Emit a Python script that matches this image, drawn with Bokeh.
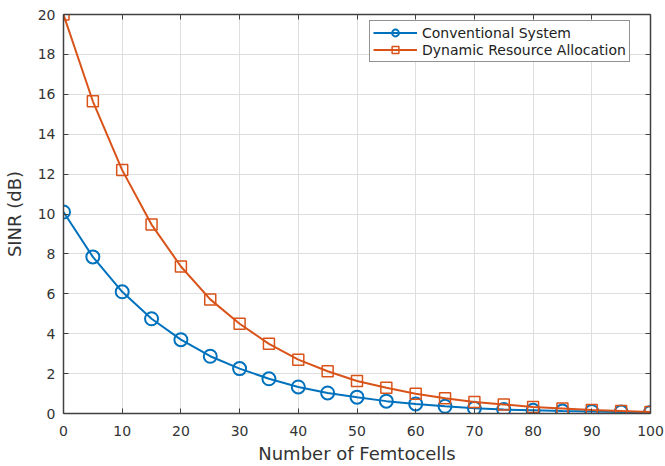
from bokeh.plotting import figure
from bokeh.models import (LinearAxis, FixedTicker, Range1d, Legend, LegendItem,
                          CustomJSTickFormatter)
from bokeh.embed import file_html
from bokeh.resources import INLINE

femtocells = [0, 5, 10, 15, 20, 25, 30, 35, 40, 45, 50, 55, 60, 65, 70, 75, 80, 85, 90, 95, 100]
conventional = [10.1, 7.85, 6.1, 4.75, 3.7, 2.87, 2.25, 1.74, 1.33, 1.03, 0.82, 0.62, 0.48,
                0.36, 0.26, 0.2, 0.16, 0.12, 0.1, 0.07, 0.05]
dynamic = [20.0, 15.65, 12.2, 9.47, 7.37, 5.72, 4.5, 3.49, 2.7, 2.12, 1.63, 1.29, 0.99,
           0.77, 0.58, 0.45, 0.33, 0.25, 0.17, 0.13, 0.08]
x_ticks = [0, 10, 20, 30, 40, 50, 60, 70, 80, 90, 100]
y_ticks = [0, 2, 4, 6, 8, 10, 12, 14, 16, 18, 20]
series_names = ["Conventional System", "Dynamic Resource Allocation"]

BLUE = "#0072BD"
ORANGE = "#D95319"
FONT = "DejaVu Sans"
AXCOL = "#404040"

p = figure(width=665, height=466, output_backend="svg", toolbar_location=None,
           x_range=Range1d(0, 100), y_range=Range1d(0, 20),
           min_border_left=63, min_border_right=15, min_border_top=14, min_border_bottom=53)
p.outline_line_color = None
p.background_fill_color = "white"
p.border_fill_color = "white"

for ax in (p.xaxis[0], p.yaxis[0]):
    ax.major_tick_in = 5
    ax.major_tick_out = 0
    ax.minor_tick_in = 0
    ax.minor_tick_out = 0
    ax.axis_line_color = AXCOL
    ax.axis_line_width = 1.5
    ax.major_tick_line_color = AXCOL
    ax.major_label_text_font = FONT
    ax.major_label_text_font_size = "14px"
    ax.major_label_text_color = "#333333"
    ax.axis_label_text_font = FONT
    ax.axis_label_text_font_size = "18px"
    ax.axis_label_text_font_style = "normal"
    ax.axis_label_text_color = "#333333"

p.xaxis[0].ticker = FixedTicker(ticks=x_ticks)
p.yaxis[0].ticker = FixedTicker(ticks=y_ticks)
p.xaxis[0].axis_label = "Number of Femtocells"
p.yaxis[0].axis_label = "SINR (dB)"
p.xaxis[0].major_label_standoff = 12
p.xaxis[0].axis_label_standoff = 4
p.yaxis[0].major_label_standoff = 8
p.yaxis[0].axis_label_standoff = 10

empty = CustomJSTickFormatter(code="return ''")
top = LinearAxis(ticker=FixedTicker(ticks=x_ticks), formatter=empty)
right = LinearAxis(ticker=FixedTicker(ticks=y_ticks), formatter=empty)
for ax in (top, right):
    ax.major_tick_in = 5
    ax.major_tick_out = 0
    ax.minor_tick_in = 0
    ax.minor_tick_out = 0
    ax.axis_line_color = AXCOL
    ax.axis_line_width = 1.5
    ax.major_tick_line_color = AXCOL
    ax.major_label_standoff = 0
    ax.major_label_text_font_size = "0px"
p.add_layout(top, "above")
p.add_layout(right, "right")

p.xgrid.ticker = FixedTicker(ticks=x_ticks)
p.ygrid.ticker = FixedTicker(ticks=y_ticks)
p.grid.grid_line_color = "#dedede"
p.grid.grid_line_width = 1

l1 = p.line(femtocells, conventional, line_color=BLUE, line_width=2)
m1 = p.scatter(femtocells, conventional, marker="circle", size=13, fill_color=None,
               line_color=BLUE, line_width=2)
l2 = p.line(femtocells, dynamic, line_color=ORANGE, line_width=2)
m2 = p.scatter(femtocells, dynamic, marker="square", size=11, fill_color=None,
               line_color=ORANGE, line_width=1.5)

legend = Legend(items=[LegendItem(label=series_names[0], renderers=[l1, m1]),
                       LegendItem(label=series_names[1], renderers=[l2, m2])],
                location=(306, 351))
legend.label_text_font = FONT
legend.label_text_font_size = "14px"
legend.label_text_color = "#222222"
legend.padding = 3
legend.spacing = 0
legend.label_height = 17
legend.glyph_height = 17
legend.glyph_width = 44
legend.label_standoff = 5
legend.border_line_color = "#262626"
legend.border_line_width = 1
legend.background_fill_alpha = 1.0
legend.margin = 0
p.add_layout(legend, "center")

open("out.html", "w").write(file_html(p, INLINE))
